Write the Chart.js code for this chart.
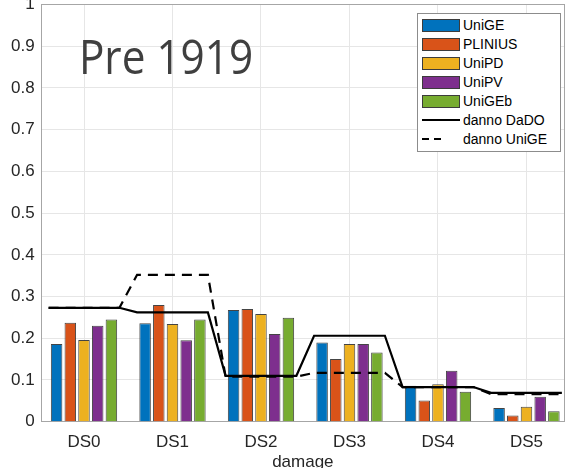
<!DOCTYPE html>
<html>
<head>
<meta charset="utf-8">
<script src="https://cdn.jsdelivr.net/npm/chart.js@4/dist/chart.umd.min.js"></script>
<style>
  html, body { margin: 0; padding: 0; background: #fff; }
  #wrap { position: relative; width: 567px; height: 468px; overflow: hidden; }
  #chart { display: block; }
  #legend {
    position: absolute; left: 417px; top: 13px; width: 144px; height: 139px;
    box-sizing: border-box; border: 1px solid #8c8c8c; background: #fff;
    font: 14px "Liberation Sans", Arial, Helvetica, sans-serif; color: #000;
  }
  #legend .row { position: absolute; left: 4px; height: 19px; display: flex; align-items: center; white-space: nowrap; }
  #legend .key { display: inline-block; width: 38px; flex: none; box-sizing: border-box; }
  #legend .swatch { height: 13px; border: 1px solid #3c3c3c; }
  #legend .line { height: 2px; background: #000; }
  #legend .line.dash { background: linear-gradient(90deg, #000 0 7.3px, transparent 7.3px 12.5px, #000 12.5px 19px, transparent 19px 38px); }
  #legend .txt { margin-left: 3px; line-height: 19px; }
</style>
</head>
<body>
<div id="wrap">
  <canvas id="chart" width="567" height="468"></canvas>
  <div id="legend"></div>
</div>
<script>
// Damage-state categories and y-axis ticks
const categories = ['DS0', 'DS1', 'DS2', 'DS3', 'DS4', 'DS5'];
const yTicks = [0, 0.1, 0.2, 0.3, 0.4, 0.5, 0.6, 0.7, 0.8, 0.9, 1];

// Bar series: share of buildings per damage state, by model
const uniGE   = [0.186, 0.236, 0.268, 0.190, 0.086, 0.033];
const plinius = [0.237, 0.280, 0.270, 0.150, 0.051, 0.015];
const uniPD   = [0.196, 0.234, 0.258, 0.186, 0.090, 0.036];
const uniPV   = [0.230, 0.195, 0.210, 0.186, 0.122, 0.060];
const uniGEb  = [0.245, 0.245, 0.249, 0.166, 0.072, 0.025];

// Observed damage distributions (stepped lines)
const dannoDaDO  = [0.273, 0.262, 0.110, 0.206, 0.083, 0.069];
const dannoUniGE = [0.273, 0.352, 0.108, 0.117, 0.083, 0.066];

const barNames  = ['UniGE', 'PLINIUS', 'UniPD', 'UniPV', 'UniGEb'];
const barValues = [uniGE, plinius, uniPD, uniPV, uniGEb];
const barColors = ['#0072BD', '#D95319', '#EDB120', '#7E2F8E', '#77AC30'];

const periodLabel = 'Pre 1919';

// Each observed level is held flat across its category, then joins the next one.
const STEP_HALF = 0.4;
const toBars  = vals => vals.map((v, i) => ({ x: i, y: v }));
const toSteps = vals => vals.flatMap((v, i) => [{ x: i - STEP_HALF, y: v }, { x: i + STEP_HALF, y: v }]);

const axisFont = { family: '"Liberation Sans", Arial, Helvetica, sans-serif', size: 17 };
const textColor = '#262626';
const gridColor = '#e6e6e6';
const frameColor = '#a6a6a6';

const datasets = barValues.map((vals, k) => ({
  type: 'bar',
  label: barNames[k],
  data: toBars(vals),
  backgroundColor: barColors[k],
  borderColor: 'rgba(35,35,35,0.85)',
  borderWidth: 1,
  order: 1
}));
datasets.push({
  type: 'line', label: 'danno DaDO', data: toSteps(dannoDaDO),
  borderColor: '#000', borderWidth: 2.2, pointRadius: 0, tension: 0, fill: false, order: 0
});
datasets.push({
  type: 'line', label: 'danno UniGE', data: toSteps(dannoUniGE),
  borderColor: '#000', borderWidth: 2.2, borderDash: [10, 7], pointRadius: 0, tension: 0, fill: false, order: 0
});

// Large period caption inside the plot
const periodCaption = {
  id: 'periodCaption',
  afterDatasetsDraw(chart, args, opts) {
    const { ctx, chartArea } = chart;
    ctx.save();
    ctx.font = opts.size + 'px ' + opts.family;
    ctx.fillStyle = opts.color;
    ctx.textBaseline = 'alphabetic';
    ctx.textAlign = 'left';
    const m = ctx.measureText(opts.text);
    const ink = m.actualBoundingBoxLeft + m.actualBoundingBoxRight;
    ctx.translate(chartArea.left + opts.dx, chartArea.top + opts.dy);
    ctx.scale(opts.width / ink, 1);
    ctx.fillText(opts.text, m.actualBoundingBoxLeft, 0);
    ctx.restore();
  }
};

const chart = new Chart(document.getElementById('chart'), {
  type: 'bar',
  data: { datasets },
  options: {
    responsive: false,
    animation: false,
    events: [],
    layout: { padding: { top: 4.5, right: 3, bottom: 0, left: 0 } },
    datasets: { bar: { categoryPercentage: 0.774, barPercentage: 0.84, grouped: true } },
    plugins: {
      legend: { display: false },
      tooltip: { enabled: false },
      periodCaption: {
        text: periodLabel, family: '"Open Sans", "Noto Sans", sans-serif', size: 47,
        color: '#3f3f3f', dx: 40.8, dy: 69.5, width: 169
      }
    },
    scales: {
      x: {
        type: 'linear', position: 'bottom', min: -0.478, max: 5.424,
        offset: false,
        afterBuildTicks: s => { s.ticks = categories.map((c, i) => ({ value: i })); },
        ticks: { callback: v => categories[v], font: axisFont, color: textColor, padding: 10, autoSkip: false, maxRotation: 0 },
        grid: { color: gridColor, drawTicks: false, offset: false },
        border: { color: frameColor, width: 1 },
        title: { display: true, text: 'damage', font: axisFont, color: textColor, padding: { top: 0, bottom: -5 } },
        afterFit: s => { s.height = 46.3; s.paddingLeft = 0; s.paddingRight = 0; }
      },
      y: {
        type: 'linear', position: 'left', min: 0, max: 1,
        afterBuildTicks: s => { s.ticks = yTicks.map(v => ({ value: v })); },
        ticks: { callback: v => String(v), font: axisFont, color: textColor, padding: 7 },
        grid: { color: gridColor, drawTicks: false },
        border: { color: frameColor, width: 1 },
        afterFit: s => { s.width = 41.7; s.paddingTop = 0; s.paddingBottom = 0; }
      },
      xTop: {
        type: 'linear', position: 'top', min: 0, max: 1, display: true,
        grid: { display: false }, ticks: { display: false },
        border: { display: true, color: frameColor, width: 1 },
        afterFit: s => { s.height = 0; s.paddingLeft = 0; s.paddingRight = 0; }
      },
      yRight: {
        type: 'linear', position: 'right', min: 0, max: 1, display: true,
        grid: { display: false }, ticks: { display: false },
        border: { display: true, color: frameColor, width: 1 },
        afterFit: s => { s.width = 0; s.paddingTop = 0; s.paddingBottom = 0; }
      }
    }
  },
  plugins: [periodCaption]
});

// Legend box built from the chart's datasets
const legendEl = document.getElementById('legend');
const LEG_TOP = 2.2, LEG_STEP = 18.9;
chart.data.datasets.forEach((ds, i) => {
  const row = document.createElement('div');
  row.className = 'row';
  row.style.top = (LEG_TOP + i * LEG_STEP) + 'px';
  const key = document.createElement('span');
  if (ds.type === 'line') {
    key.className = 'key line' + (ds.borderDash ? ' dash' : '');
  } else {
    key.className = 'key swatch';
    key.style.background = ds.backgroundColor;
  }
  const txt = document.createElement('span');
  txt.className = 'txt';
  txt.textContent = ds.label;
  row.append(key, txt);
  legendEl.append(row);
});
</script>
</body>
</html>
